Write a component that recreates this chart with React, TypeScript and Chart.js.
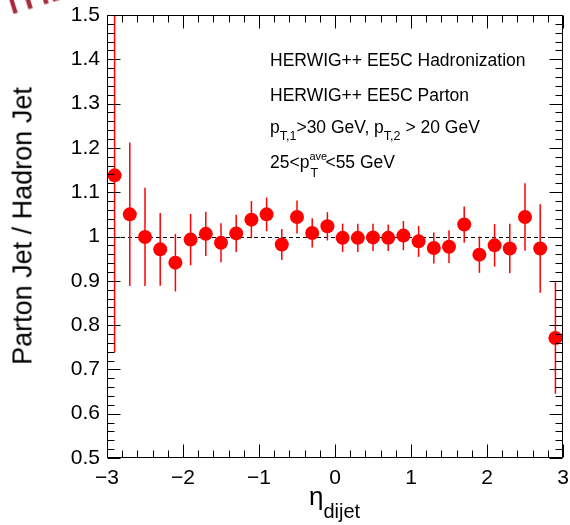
import React, { useEffect, useRef } from "react";
import { Chart, registerables } from "chart.js";

Chart.register(...registerables);

// ---- data ----
const etaCenters = [
  -2.9, -2.7, -2.5, -2.3, -2.1, -1.9, -1.7, -1.5, -1.3, -1.1,
  -0.9, -0.7, -0.5, -0.3, -0.1, 0.1, 0.3, 0.5, 0.7, 0.9,
  1.1, 1.3, 1.5, 1.7, 1.9, 2.1, 2.3, 2.5, 2.7, 2.9,
];
const ratio = [
  1.138, 1.05, 0.999, 0.971, 0.941, 0.993, 1.006, 0.986, 1.007, 1.038,
  1.05, 0.982, 1.044, 1.008, 1.023, 0.997, 0.997, 0.998, 0.997, 1.002,
  0.989, 0.974, 0.977, 1.027, 0.959, 0.98, 0.973, 1.044, 0.973, 0.771,
];
const ratioErr = [
  0.4, 0.162, 0.111, 0.082, 0.065, 0.058, 0.05, 0.044, 0.042, 0.042,
  0.038, 0.035, 0.037, 0.033, 0.032, 0.032, 0.032, 0.031, 0.03, 0.033,
  0.035, 0.035, 0.037, 0.041, 0.041, 0.048, 0.056, 0.076, 0.1, 0.126,
];
const referenceLevel = 1;
const xRange = [-3, 3];
const yRange = [0.5, 1.5];
const legendLines = [
  "HERWIG++ EE5C Hadronization",
  "HERWIG++ EE5C Parton",
];

const FONT = "'Liberation Sans', Arial, Helvetica, sans-serif";
const RED = "#ff0000";

const rootStyle = {
  id: "rootStyle",
  beforeDatasetsDraw(chart: any) {
    const { ctx, chartArea, scales } = chart;
    const { left, right, top, bottom } = chartArea;
    const x = scales.x;
    const y = scales.y;
    ctx.save();
    ctx.beginPath();
    ctx.rect(left, top, right - left, bottom - top);
    ctx.clip();
    // reference dashed line
    const yr = Math.round(y.getPixelForValue(referenceLevel)) + 0.5;
    ctx.setLineDash([4, 3]);
    ctx.strokeStyle = "#000";
    ctx.lineWidth = 1;
    ctx.beginPath();
    ctx.moveTo(left, yr);
    ctx.lineTo(right, yr);
    ctx.stroke();
    ctx.setLineDash([]);
    // error bars
    ctx.strokeStyle = RED;
    ctx.lineWidth = 1.5;
    etaCenters.forEach((e, i) => {
      const px = x.getPixelForValue(e);
      ctx.beginPath();
      ctx.moveTo(px, y.getPixelForValue(ratio[i] + ratioErr[i]));
      ctx.lineTo(px, y.getPixelForValue(ratio[i] - ratioErr[i]));
      ctx.stroke();
    });
    ctx.restore();
  },
  afterDatasetsDraw(chart: any) {
    const { ctx, chartArea, scales } = chart;
    const { left, right, top, bottom } = chartArea;
    const x = scales.x;
    const y = scales.y;
    ctx.save();
    ctx.strokeStyle = "#000";
    ctx.lineWidth = 1;
    const L = Math.round(left) + 0.5;
    const R = Math.round(right) - 0.5;
    const T = Math.round(top) + 0.5;
    const B = Math.round(bottom) - 0.5;
    ctx.beginPath();
    ctx.rect(L, T, R - L, B - T);
    ctx.stroke();
    ctx.beginPath();
    // y ticks (left & right)
    for (let i = 0; i <= 50; i++) {
      const v = yRange[0] + i * 0.02;
      const len = i % 5 === 0 ? 13 : 7;
      const py = Math.round(y.getPixelForValue(v)) + 0.5;
      ctx.moveTo(L, py);
      ctx.lineTo(L + len, py);
      ctx.moveTo(R, py);
      ctx.lineTo(R - len, py);
    }
    // x ticks (bottom & top)
    for (let i = 0; i <= 30; i++) {
      const v = xRange[0] + i * 0.2;
      const len = i % 5 === 0 ? 13 : 7;
      const px = Math.round(x.getPixelForValue(v)) + 0.5;
      ctx.moveTo(px, B);
      ctx.lineTo(px, B - len);
      ctx.moveTo(px, T);
      ctx.lineTo(px, T + len);
    }
    ctx.stroke();
    ctx.restore();
  },
};

export default function App() {
  const canvasRef = useRef<HTMLCanvasElement | null>(null);

  useEffect(() => {
    if (!canvasRef.current) return;
    const chart = new Chart(canvasRef.current, {
      type: "scatter",
      data: {
        datasets: [
          {
            label: "Parton / Hadron",
            data: etaCenters.map((e, i) => ({ x: e, y: ratio[i] })),
            pointRadius: 7,
            pointHoverRadius: 7,
            backgroundColor: RED,
            borderWidth: 0,
            showLine: false,
          },
        ],
      },
      options: {
        animation: false,
        responsive: false,
        maintainAspectRatio: false,
        events: [],
        layout: { padding: { top: 15, right: 5, left: 0, bottom: 0 } },
        plugins: {
          legend: { display: false },
          tooltip: { enabled: false },
        },
        scales: {
          x: {
            type: "linear",
            min: xRange[0],
            max: xRange[1],
            grid: { display: false, drawTicks: false },
            border: { display: false },
            ticks: {
              stepSize: 1,
              padding: 8,
              color: "#000",
              maxRotation: 0,
              autoSkip: false,
              font: { family: FONT, size: 21 },
              callback: (v: any) => String(Math.round(Number(v))).replace("-", "\u2212"),
            },
            afterFit: (s: any) => {
              s.height = 67;
              s.paddingLeft = 0;
              s.paddingRight = 0;
            },
          },
          y: {
            type: "linear",
            min: yRange[0],
            max: yRange[1],
            grid: { display: false, drawTicks: false },
            border: { display: false },
            ticks: {
              stepSize: 0.1,
              padding: 7,
              color: "#000",
              autoSkip: false,
              font: { family: FONT, size: 21 },
              callback: (v: any) => String(parseFloat(Number(v).toFixed(2))),
            },
            afterFit: (s: any) => {
              s.width = 107;
              s.paddingTop = 0;
              s.paddingBottom = 0;
            },
          },
        },
      },
      plugins: [rootStyle],
    } as any);
    return () => chart.destroy();
  }, []);

  const sub = (t: string) => (
    <span style={{ fontSize: 12.5, position: "relative", top: 7 }}>{t}</span>
  );

  return (
    <div
      style={{
        position: "absolute",
        left: 0,
        top: 0,
        width: 570,
        height: 525,
        overflow: "hidden",
        background: "#fff",
        fontFamily: FONT,
        color: "#000",
      }}
    >
      <canvas ref={canvasRef} width={570} height={525} style={{ display: "block", position: "absolute", left: 0, top: 0 }} />
      {/* stamp */}
      <div
        style={{
          position: "absolute",
          left: 5,
          top: 16 - 30,
          fontSize: 36,
          lineHeight: "36px",
          color: "#a52a3a",
          whiteSpace: "nowrap",
          transformOrigin: "0px 30px",
          transform: "rotate(-17deg)",
          WebkitTextStroke: "1px #a52a3a",
        }}
      >
        THE
      </div>
      {/* y title */}
      <div
        style={{
          position: "absolute",
          left: 23,
          top: 226,
          fontSize: 27,
          lineHeight: "27px",
          whiteSpace: "nowrap",
          transform: "translate(-50%, -50%) rotate(-90deg)",
        }}
      >
        Parton Jet / Hadron Jet
      </div>
      {/* x title */}
      <div style={{ position: "absolute", left: 309, top: 483, fontSize: 26, lineHeight: "26px", whiteSpace: "nowrap" }}>
        η<span style={{ fontSize: 20, position: "relative", top: 13 }}>dijet</span>
      </div>
      {/* legend text */}
      <div style={{ position: "absolute", left: 270, top: 52, fontSize: 17.5, lineHeight: "17.5px", whiteSpace: "nowrap" }}>
        {legendLines[0]}
      </div>
      <div style={{ position: "absolute", left: 270, top: 86.5, fontSize: 17.5, lineHeight: "17.5px", whiteSpace: "nowrap" }}>
        {legendLines[1]}
      </div>
      <div style={{ position: "absolute", left: 270, top: 119, fontSize: 17.5, lineHeight: "17.5px", whiteSpace: "nowrap" }}>
        p{sub("T,1")}&gt;30 GeV, p{sub("T,2")} &gt; 20 GeV
      </div>
      <div style={{ position: "absolute", left: 270, top: 154, fontSize: 17.5, lineHeight: "17.5px", whiteSpace: "nowrap" }}>
        25&lt;p
        <span style={{ position: "relative", display: "inline-block", width: 16 }}>
          &nbsp;
          <span style={{ position: "absolute", left: 0, top: -3, fontSize: 11, lineHeight: "11px" }}>ave</span>
          <span style={{ position: "absolute", left: 1, top: 13, fontSize: 12.5, lineHeight: "12.5px" }}>T</span>
        </span>
        &lt;55 GeV
      </div>
    </div>
  );
}
